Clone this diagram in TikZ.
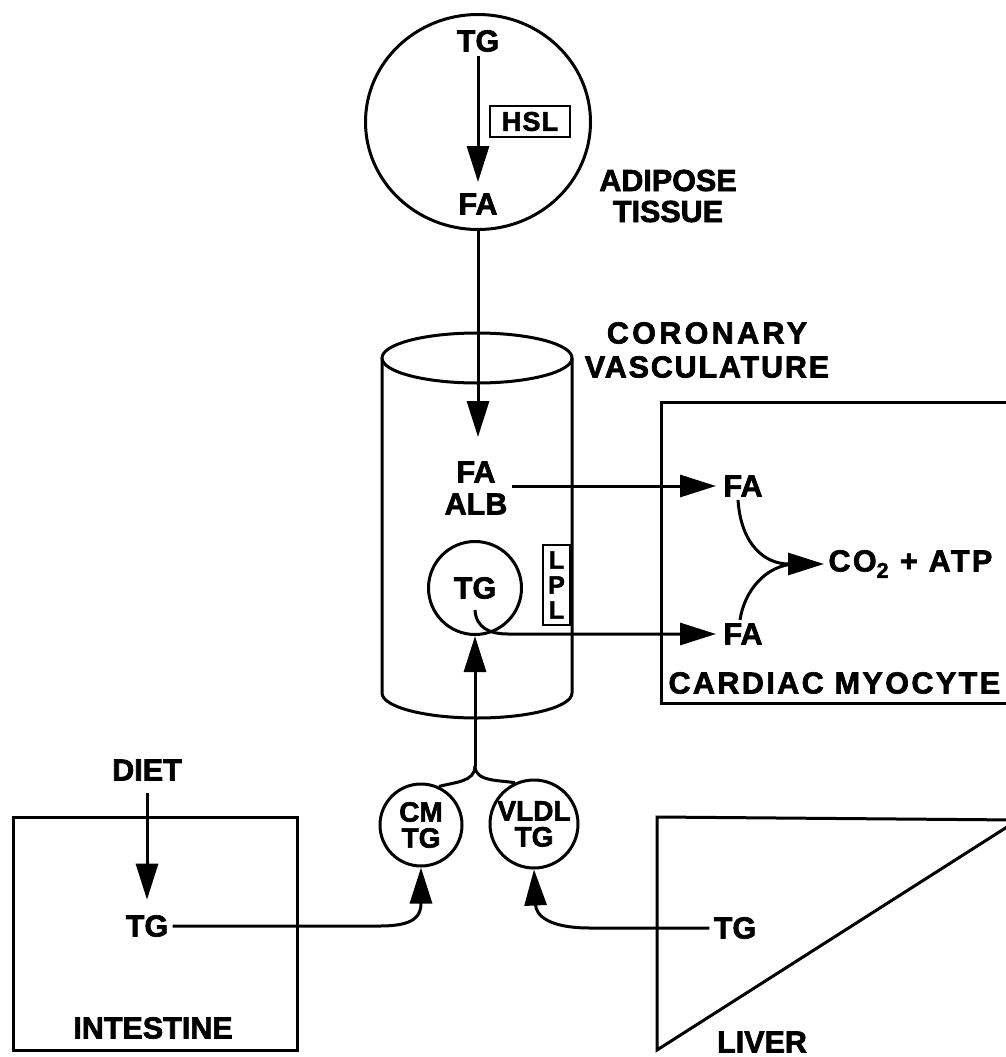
\documentclass[tikz,border=0pt]{standalone}
\usepackage{fontspec}
\newfontfamily\lblfont{Liberation Sans}[BoldFeatures={FakeBold=2.2}]
\usetikzlibrary{arrows.meta,shapes.geometric,calc}
\begin{document}
\begin{tikzpicture}[x=1pt,y=-1pt,line width=3pt,
  lbl/.style={font=\lblfont\bfseries\fontsize{30.5}{32}\selectfont, inner sep=3pt, align=center},
  circtxt/.style={font=\lblfont\bfseries\fontsize{28}{26}\selectfont, inner sep=0pt, align=center},
  arr/.style={-{Triangle[length=36pt,width=22pt]}},
  ]
\useasboundingbox (0,0) rectangle (1006,1057);
\fill[white] (0,0) rectangle (1006,1057);
\clip (0,0) rectangle (1006,1057);

% ---------- adipose tissue ----------
\node[draw, ellipse, minimum width=225, minimum height=215] (adip) at (478,122) {};
\node[lbl] (tgA) at (478,41) {TG};
\node[lbl] (faA) at (478,204) {FA};
\draw[arr, shorten >=7pt] (tgA) -- (faA);
\node[draw, line width=2.6pt, minimum width=80, minimum height=31, inner sep=0pt,
      font=\lblfont\bfseries\fontsize{27}{28}\selectfont] (hsl) at (530,121.5)
      {\addfontfeature{LetterSpace=4}HSL};
\node[lbl, font=\lblfont\bfseries\fontsize{30.5}{31}\selectfont] (adlbl) at (668,196) {ADIPOSE\\TISSUE};

% ---------- coronary vasculature ----------
\draw (477,358) ellipse [x radius=95, y radius=25];
\draw (382,358) -- (382,693) arc[start angle=180, end angle=0, x radius=95, y radius=25] -- (572,358);
\node[lbl, font=\lblfont\bfseries\fontsize{30.5}{34}\selectfont] (corlbl) at (707,350)
  {{\addfontfeature{LetterSpace=11}CORONARY}\\{\addfontfeature{LetterSpace=6}VASCULATURE}};
\node[lbl] (faalb) at (476,488) {FA\\ALB};
\draw[arr, shorten >=20pt] (adip.south) -- (adip.south |- faalb.north);
\node[draw, circle, minimum size=93, lbl] (tgc) at (475,588) {TG};
\node[draw, line width=2.4pt, minimum width=27, minimum height=80, inner sep=0pt, align=center,
      font=\lblfont\bfseries\fontsize{25}{25}\selectfont] (lpl) at (556.5,585) {L\\P\\L};

% ---------- cardiac myocyte ----------
\draw (1030,402) -- (661,402) -- (661,703) -- (1030,703);
\node[lbl, anchor=west] (myolbl) at (664,683) {\addfontfeature{LetterSpace=8}CARDIAC MYOCYTE};
\node[lbl, inner sep=2pt] (fa1) at (743,486) {FA};
\node[lbl, inner sep=2pt] (fa2) at (743,634) {FA};
\node[lbl, anchor=west] (co2) at (824,564) {\addfontfeature{LetterSpace=8}CO\textsubscript{2} + ATP};
\draw[arr, shorten >=4pt] (faalb.east |- fa1) -- (fa1.west);
\coordinate (curl) at (475,610);
\draw[arr, shorten >=4pt] (curl) .. controls (476,628) and (490,634) .. (508,634) -- (fa2.west);
\coordinate (merge) at (795,564);
\draw[arr] ([xshift=-5pt]fa1.south) .. controls (741,545) and (765,564) .. (co2.west);
\draw ([xshift=-3pt]fa2.north) .. controls (744,592) and (765,565) .. (merge);

% ---------- lipoproteins ----------
\node[draw, circle, circtxt, minimum size=82] (cm) at (421,825) {CM\\TG};
\node[draw, circle, circtxt, minimum size=88] (vldl) at (534,824) {VLDL\\TG};
\coordinate (branch) at (475,766);
\draw[arr] (branch) -- (tgc.south);
\draw (branch) .. controls (475,782) and (455,782) .. (cm.65);
\draw (branch) .. controls (475,782) and (500,780) .. (vldl.115);

% ---------- intestine ----------
\node[draw, minimum width=284, minimum height=233, inner sep=0pt] (intest) at (155,933.5) {};
\node[lbl] (diet) at (147,770) {DIET};
\node[lbl] (tgI) at (147,926) {TG};
\draw[arr, shorten <=8pt, shorten >=11pt] (diet) -- (tgI);
\draw[arr] (tgI.east) -- (380,926) .. controls (416,926) and (421,915) .. (cm.south);
\node[lbl] (intlbl) at (153,1028) {INTESTINE};

% ---------- liver ----------
\draw (657,817) -- (1018,820) -- (657,1050) -- cycle;
\node[lbl] (tgL) at (735,928) {TG};
\draw[arr] (tgL.west) -- (590,928) .. controls (548,928) and (536,915) .. (vldl.south);
\node[lbl] (liver) at (762,1042) {LIVER};
\end{tikzpicture}
\end{document}
